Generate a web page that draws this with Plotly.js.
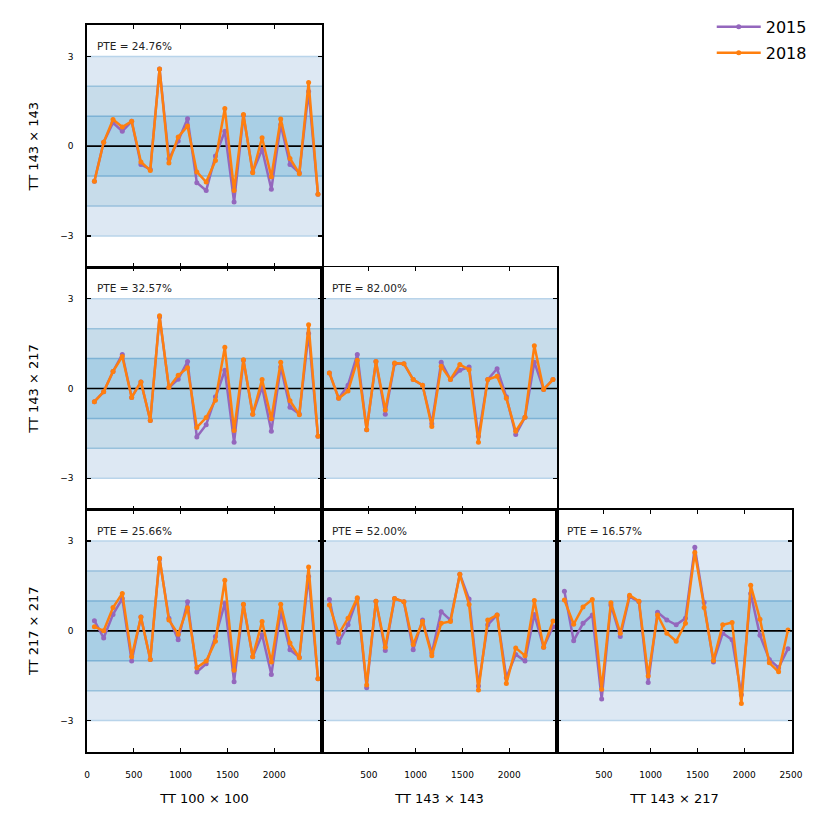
<!DOCTYPE html>
<html><head><meta charset="utf-8">
<script src="https://cdn.plot.ly/plotly-3.0.1.min.js"></script>
<style>body{margin:0;background:#fff}#chart{width:830px;height:830px}</style>
</head><body><div id="chart"></div>
<script>
// multipole bin centres
const ell = [79,178,278,377,477,576,676,775,875,974,1074,1173,1273,1372,1472,1571,1671,1770,1870,1969,2069,2168,2268,2367,2467];

// TT 143x143 vs TT 100x100
const p1_2015 = [-1.17,0.13,0.78,0.50,0.83,-0.61,-0.78,2.58,-0.42,0.17,0.92,-1.22,-1.48,-0.33,0.50,-1.87,1.03,-0.86,-0.11,-1.44,0.72,-0.61,-0.89,1.83,-1.61];
const p1_2018 = [-1.17,0.13,0.89,0.64,0.83,-0.53,-0.81,2.58,-0.56,0.31,0.67,-0.86,-1.20,-0.48,1.26,-1.48,1.06,-0.89,0.28,-1.02,0.91,-0.41,-0.92,2.13,-1.61];
// TT 143x217 vs TT 100x100
const p2_2015 = [-0.44,-0.11,0.57,1.14,-0.30,0.22,-1.07,2.39,0.03,0.31,0.90,-1.62,-1.21,-0.28,0.61,-1.80,0.94,-0.86,0.05,-1.43,0.72,-0.63,-0.85,1.84,-1.60];
const p2_2018 = [-0.44,-0.11,0.57,1.07,-0.30,0.22,-1.07,2.43,0.03,0.44,0.69,-1.30,-0.97,-0.39,1.38,-1.40,0.96,-0.86,0.30,-1.01,0.88,-0.41,-0.88,2.13,-1.60];
// TT 143x217 vs TT 143x143
const p3_2015 = [0.52,-0.33,0.11,1.14,-1.38,0.90,-0.86,0.83,0.83,0.30,0.11,-1.18,0.88,0.30,0.61,0.72,-1.60,0.30,0.66,-0.28,-1.54,-0.96,0.88,-0.03,0.30];
const p3_2018 = [0.52,-0.33,-0.08,0.94,-1.38,0.90,-0.72,0.85,0.83,0.30,0.11,-1.27,0.74,0.30,0.80,0.63,-1.80,0.30,0.41,-0.33,-1.43,-0.96,1.43,-0.03,0.30];
// TT 217x217 vs TT 100x100
const p4_2015 = [0.34,-0.24,0.55,1.08,-1.01,0.46,-0.96,2.40,0.42,-0.30,0.97,-1.38,-1.10,-0.19,0.92,-1.70,0.88,-0.87,-0.13,-1.46,0.64,-0.63,-0.88,1.82,-1.60];
const p4_2018 = [0.14,0.00,0.78,1.25,-0.87,0.46,-0.96,2.43,0.36,-0.11,0.77,-1.23,-1.01,-0.35,1.69,-1.32,0.89,-0.87,0.31,-1.04,0.89,-0.41,-0.90,2.13,-1.60];
// TT 217x217 vs TT 143x143
const p5_2015 = [1.05,-0.39,0.20,1.08,-1.90,0.99,-0.66,1.08,0.97,-0.63,0.36,-0.74,0.64,0.36,1.89,1.06,-1.84,0.20,0.53,-1.57,-0.79,-1.01,0.55,-0.55,0.14];
const p5_2018 = [0.86,-0.11,0.42,1.11,-1.81,0.99,-0.55,1.08,0.97,-0.46,0.31,-0.83,0.25,0.31,1.89,0.88,-1.98,0.36,0.53,-1.76,-0.57,-0.83,1.01,-0.55,0.33];
// TT 217x217 vs TT 143x217
const p6_2015 = [1.32,-0.33,0.25,0.53,-2.28,0.86,-0.19,1.14,0.97,-1.73,0.62,0.36,0.20,0.42,2.79,0.95,-1.04,-0.08,-0.30,-2.14,1.25,-0.15,-0.96,-1.23,-0.60];
const p6_2018 = [1.03,0.22,0.80,1.05,-1.95,0.94,-0.08,1.19,0.99,-1.51,0.53,-0.08,-0.35,0.25,2.62,0.78,-0.99,0.20,0.28,-2.43,1.52,0.39,-1.07,-1.37,0.03];

const pteLabels = ["PTE = 24.76%","PTE = 32.57%","PTE = 82.00%","PTE = 25.66%","PTE = 52.00%","PTE = 16.57%"];
const xTitles = ["TT 100 \u00d7 100","TT 143 \u00d7 143","TT 143 \u00d7 217"];
const yTitles = ["TT 143 \u00d7 143","TT 143 \u00d7 217","TT 217 \u00d7 217"];
const yTickVals = [-3,0,3];
const yTickText = ["\u22123","0","3"];
const xTickSets = [[0,500,1000,1500,2000],[500,1000,1500,2000],[500,1000,1500,2000,2500]];

const panels = [
  {r:0,c:0,a:p1_2015,b:p1_2018},
  {r:1,c:0,a:p2_2015,b:p2_2018},
  {r:1,c:1,a:p3_2015,b:p3_2018},
  {r:2,c:0,a:p4_2015,b:p4_2018},
  {r:2,c:1,a:p5_2015,b:p5_2018},
  {r:2,c:2,a:p6_2015,b:p6_2018}
];

const C15 = "#9467bd", C18 = "#ff7f0e";
const font = "DejaVu Sans, sans-serif";
const traces = [], shapes = [], annotations = [];
const layout = {
  width:830, height:830,
  margin:{l:87,r:38,t:25,b:78,autoexpand:false},
  paper_bgcolor:"#fff", plot_bgcolor:"rgba(0,0,0,0)",
  font:{family:font, size:10, color:"#000"},
  showlegend:true,
  legend:{x:0.978,xanchor:"right",y:0.988,yanchor:"top",xref:"container",yref:"container",
          font:{size:16,family:font},bgcolor:"rgba(0,0,0,0)",tracegroupgap:2,itemwidth:44}
};

const colW = 1/3, rowH = 1/3;
panels.forEach((p,i)=>{
  const n = i+1;
  const xa = "x"+(n===1?"":n), ya = "y"+(n===1?"":n);
  const xk = "xaxis"+(n===1?"":n), yk = "yaxis"+(n===1?"":n);
  const bottom = p.r===2, left = p.c===0;
  layout[xk] = {
    domain:[p.c*colW, (p.c+1)*colW], anchor:ya, range:[0,2510],
    tickvals:xTickSets[p.c], showticklabels:bottom,
    ticks:"inside", ticklen:4, tickwidth:1.3, tickcolor:"#000",
    showline:true, linecolor:"#000", linewidth:1.6, mirror:"ticks",
    showgrid:false, zeroline:false, fixedrange:true,
    ticklabelstandoff:14,
    tickfont:{size:9,family:font}
  };
  if(bottom) layout[xk].title = {text:xTitles[p.c], font:{size:13,family:font}, standoff:14};
  layout[yk] = {
    domain:[1-(p.r+1)*rowH, 1-p.r*rowH], anchor:xa, range:[-4.05,4.05],
    tickvals:yTickVals, ticktext:yTickText, showticklabels:left,
    ticks:"inside", ticklen:4, tickwidth:1.3, tickcolor:"#000",
    showline:true, linecolor:"#000", linewidth:1.6, mirror:"ticks",
    showgrid:false, zeroline:false, fixedrange:true,
    ticklabelstandoff:10,
    tickfont:{size:9,family:font}
  };
  if(left) layout[yk].title = {text:yTitles[p.r], font:{size:13,family:font}, standoff:19};

  // sigma bands
  const bands = [[3,"#dde8f3"],[2,"#c7dcea"],[1,"#a9cfe5"]];
  bands.forEach(([s,col])=>{
    shapes.push({type:"rect",xref:xa+" domain",yref:ya,x0:0,x1:1,y0:-s,y1:s,
      fillcolor:col,line:{width:0},layer:"below"});
  });
  const lineCols = {3:"#b9d4ea",2:"#98c1dc",1:"#7db2d5"};
  [3,2,1].forEach(s=>{
    [-s,s].forEach(v=>{
      shapes.push({type:"line",xref:xa+" domain",yref:ya,x0:0,x1:1,y0:v,y1:v,
        line:{color:lineCols[s],width:1.5},layer:"below"});
    });
  });
  shapes.push({type:"line",xref:xa+" domain",yref:ya,x0:0,x1:1,y0:0,y1:0,
    line:{color:"#000",width:1.6},layer:"below"});

  traces.push({x:ell,y:p.a,xaxis:xa,yaxis:ya,type:"scatter",mode:"lines+markers",
    name:"2015",legendgroup:"2015",showlegend:i===0,
    line:{color:C15,width:2.5},marker:{color:C15,size:5},cliponaxis:false});
  traces.push({x:ell,y:p.b,xaxis:xa,yaxis:ya,type:"scatter",mode:"lines+markers",
    name:"2018",legendgroup:"2018",showlegend:i===0,
    line:{color:C18,width:2.5},marker:{color:C18,size:5},cliponaxis:false});

  annotations.push({xref:xa+" domain",yref:ya,x:0.035,y:3.35,xanchor:"left",yanchor:"middle",
    text:pteLabels[i],showarrow:false,font:{size:10.5,family:font,color:"#222"}});
});

layout.shapes = shapes;
layout.annotations = annotations;
Plotly.newPlot("chart", traces, layout, {displayModeBar:false, staticPlot:true});
</script>
</body></html>
